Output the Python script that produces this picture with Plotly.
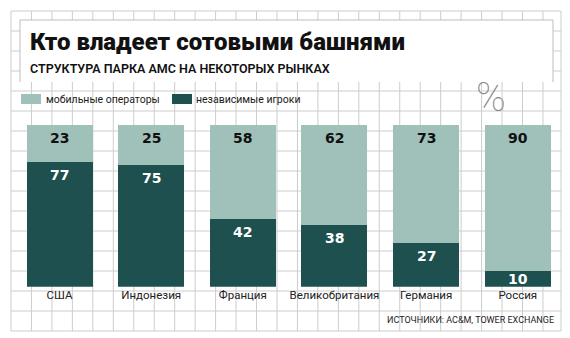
import plotly.graph_objects as go

categories = ["США", "Индонезия", "Франция", "Великобритания", "Германия", "Россия"]
mobile = [23, 25, 58, 62, 73, 90]
independent = [77, 75, 42, 38, 27, 10]
series_names = ["мобильные операторы", "независимые игроки"]

W, H = 570, 338
LIGHT = "#a0c1b9"
DARK = "#1e5050"
GRID = "#cdcdcd"
FONT = "Roboto"

def px(x):
    return x / W

def py(y):
    return 1 - y / H

fig = go.Figure()
fig.add_trace(go.Bar(x=categories, y=independent, name=series_names[1],
                     marker=dict(color=DARK, line=dict(width=0)), showlegend=False))
fig.add_trace(go.Bar(x=categories, y=mobile, name=series_names[0],
                     marker=dict(color=LIGHT, line=dict(width=0)), showlegend=False))

shapes = []
# background grid (decoration)
k = 0
while True:
    x = 11 + 20.46 * k
    if x > 556:
        break
    shapes.append(dict(type="line", xref="paper", yref="paper", x0=px(x), x1=px(x),
                       y0=py(11), y1=py(331), line=dict(color=GRID, width=1), layer="below"))
    k += 1
shapes.append(dict(type="line", xref="paper", yref="paper", x0=px(561), x1=px(561),
                   y0=py(11), y1=py(331), line=dict(color=GRID, width=1), layer="below"))
for k in range(17):
    y = 11 + 20 * k
    shapes.append(dict(type="line", xref="paper", yref="paper", x0=px(11), x1=px(561),
                       y0=py(y), y1=py(y), line=dict(color=GRID, width=1), layer="below"))
# title box
shapes.append(dict(type="rect", xref="paper", yref="paper", x0=px(20), x1=px(553),
                   y0=py(82), y1=py(20), fillcolor="white", line=dict(width=0), layer="below"))
for (x0, y0, x1, y1) in [(20, 82, 20, 20), (20, 20, 553, 20), (553, 20, 553, 82)]:
    shapes.append(dict(type="line", xref="paper", yref="paper", x0=px(x0), x1=px(x1),
                       y0=py(y0), y1=py(y1), line=dict(color="#bdbdbd", width=1), layer="below"))
# legend swatches
shapes.append(dict(type="rect", xref="paper", yref="paper", x0=px(21), x1=px(41),
                   y0=py(104), y1=py(94), fillcolor=LIGHT, line=dict(width=0)))
shapes.append(dict(type="rect", xref="paper", yref="paper", x0=px(172), x1=px(192),
                   y0=py(104), y1=py(94), fillcolor=DARK, line=dict(width=0)))

annotations = []
annotations.append(dict(text="Кто владеет сотовыми башнями", xref="paper", yref="paper",
                        x=px(28), y=py(42), xanchor="left", yanchor="middle", showarrow=False,
                        font=dict(family=FONT, size=24, color="#111", weight=900)))
annotations.append(dict(text="СТРУКТУРА ПАРКА АМС НА НЕКОТОРЫХ РЫНКАХ", xref="paper", yref="paper",
                        x=px(28), y=py(68), xanchor="left", yanchor="middle", showarrow=False,
                        font=dict(family=FONT, size=12.5, color="#111", weight=600)))
annotations.append(dict(text=series_names[0], xref="paper", yref="paper",
                        x=px(44), y=py(99), xanchor="left", yanchor="middle", showarrow=False,
                        font=dict(family=FONT, size=10.5, color="#1a1a1a")))
annotations.append(dict(text=series_names[1], xref="paper", yref="paper",
                        x=px(194), y=py(99), xanchor="left", yanchor="middle", showarrow=False,
                        font=dict(family=FONT, size=10.5, color="#1a1a1a")))
annotations.append(dict(text="%", xref="paper", yref="paper",
                        x=px(491), y=py(98), xanchor="center", yanchor="middle", showarrow=False,
                        font=dict(family=FONT, size=40, color="#858585", weight=100)))
annotations.append(dict(text="ИСТОЧНИКИ: AC&M, TOWER EXCHANGE", xref="paper", yref="paper",
                        x=px(556), y=py(320), xanchor="right", yanchor="middle", showarrow=False,
                        font=dict(family=FONT, size=9, color="#222")))

UNIT_PX = 161.7 / 100
for c, d, m in zip(categories, independent, mobile):
    sh = min(13, d * UNIT_PX / 2)
    annotations.append(dict(text=str(d), x=c, y=d, xref="x", yref="y", yanchor="middle",
                            yshift=-sh, showarrow=False,
                            font=dict(family="DejaVu Sans", size=14, color="white", weight="bold")))
    annotations.append(dict(text=str(m), x=c, y=d + m, xref="x", yref="y", yanchor="middle",
                            yshift=-13, showarrow=False,
                            font=dict(family="DejaVu Sans", size=14, color="#111", weight="bold")))

fig.update_layout(
    width=W, height=H, margin=dict(l=0, r=0, t=0, b=0),
    paper_bgcolor="white", plot_bgcolor="rgba(0,0,0,0)",
    barmode="stack", bargap=0.28,
    shapes=shapes, annotations=annotations,
    xaxis=dict(domain=[13.7 / W, 563.6 / W], showgrid=False, showline=False, zeroline=False,
               ticks="", tickfont=dict(family=FONT, size=11.5, color="#222")),
    yaxis=dict(domain=[py(286.7), py(125)], range=[0, 100], showgrid=False, zeroline=False,
               showticklabels=False, showline=False),
)
fig.write_html("out.html")
